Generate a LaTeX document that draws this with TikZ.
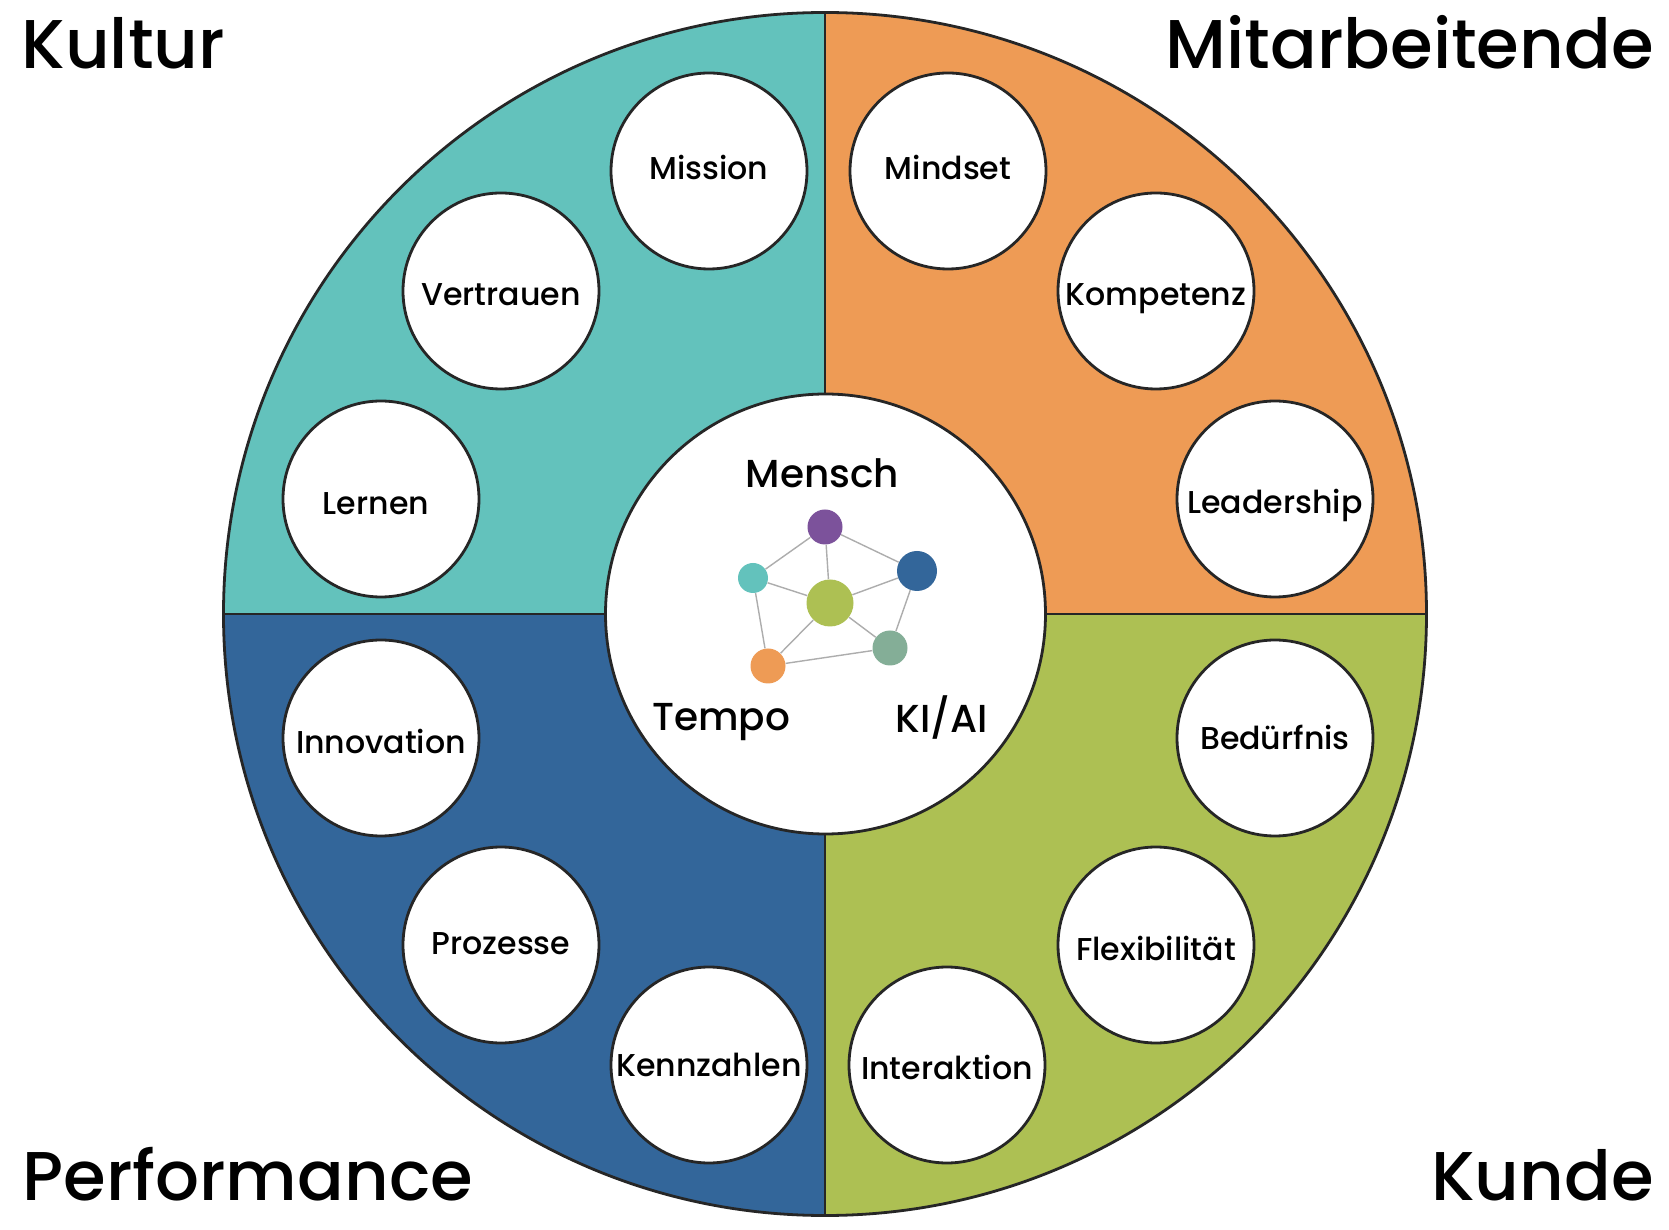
\documentclass[tikz,border=0pt]{standalone}
\usepackage{fontspec}
\setmainfont{Poppins}[UprightFont=* Medium]
\usepackage{xcolor}
\usetikzlibrary{positioning}
\definecolor{tuerkis}{HTML}{63C2BC}
\definecolor{apricot}{HTML}{EE9B55}
\definecolor{tiefblau}{HTML}{33669A}
\definecolor{gruen}{HTML}{ADC053}
\definecolor{violett}{HTML}{7C529B}
\definecolor{salbei}{HTML}{84AE97}
\newcommand{\kreistext}[2]{\raisebox{-#1pt}[0pt][0pt]{#2}}
\tikzset{
    feld/.style={draw=black!85, line width=1.4pt},
    kreis/.style={
        circle,
        draw=black!85,
        line width=1.4pt,
        fill=white,
        inner sep=0pt,
        minimum size=98pt,
        font=\fontsize{15.8}{18}\selectfont
    },
    mitte/.style={kreis, minimum size=220pt},
    titel/.style={font=\fontsize{34.5}{40}\selectfont, inner sep=0pt},
    thema/.style={font=\fontsize{19.5}{24}\selectfont, inner sep=0pt},
    punkt/.style={circle, inner sep=0pt},
    kante/.style={draw=black!32, line width=0.7pt}
}

\begin{document}
\begin{tikzpicture}[x=0.5pt, y=0.5pt]
    \useasboundingbox (-825,-616) rectangle (844,614);

    \fill[tuerkis] (0,0) -- (0,601.5) arc (90:180:601.5) -- cycle;
    \fill[apricot] (0,0) -- (601.5,0) arc (0:90:601.5) -- cycle;
    \fill[gruen] (0,0) -- (0,-601.5) arc (270:360:601.5) -- cycle;
    \fill[tiefblau] (0,0) -- (-601.5,0) arc (180:270:601.5) -- cycle;
    \draw[feld] (0,0) circle (601.5);
    \draw[feld] (-601.5,0) -- (601.5,0);
    \draw[feld] (0,-601.5) -- (0,601.5);

    \node[mitte] (mitte) at (0.5,0) {};

    \node[kreis] (mission) at (-116,443) {\kreistext{4.1}{Mission}};
    \node[kreis] (vertrauen) at (-324,323) {\kreistext{7.3}{Vertrauen}};
    \node[kreis] (lernen) at (-444,115) {\hspace*{-5pt}\kreistext{7.8}{Lernen}};
    \node[kreis] (mindset) at (123,443) {\kreistext{4.1}{Mindset}};
    \node[kreis] (kompetenz) at (331,323) {\kreistext{7.2}{Kompetenz}};
    \node[kreis] (leadership) at (450,115) {\kreistext{7.2}{Leadership}};
    \node[kreis] (beduerfnis) at (450,-124) {\kreistext{5.7}{Bedürfnis}};
    \node[kreis] (flexibilitaet) at (331,-331) {\kreistext{7.8}{Flexibilität}};
    \node[kreis] (interaktion) at (122,-451) {\kreistext{7.3}{Interaktion}};
    \node[kreis] (innovation) at (-444,-124) {\kreistext{7.8}{Innovation}};
    \node[kreis] (prozesse) at (-324,-331) {\kreistext{4.8}{Prozesse}};
    \node[kreis] (kennzahlen) at (-116,-451) {\kreistext{5.7}{Kennzahlen}};

    \node[titel, anchor=base west] (kultur) at (-804,545) {Kultur};
    \node[titel, anchor=base east] (mitarbeitende) at (829,545) {Mitarbeitende};
    \node[titel, anchor=base west] (performance) at (-803,-586) {Performance};
    \node[titel, anchor=base east] (kunde) at (829,-586) {Kunde};

    \node[thema] (mensch) at (-2.5,141) {Mensch};
    \node[thema] (tempo) at (-104,-108) {Tempo};
    \node[thema] (kiai) at (117,-104) {KI/AI};

    \node[punkt, fill=violett, minimum size=17.5pt] (violettpunkt) at (0,87) {};
    \node[punkt, fill=tiefblau, minimum size=20pt] (blaupunkt) at (92,43) {};
    \node[punkt, fill=tuerkis, minimum size=15pt] (tuerkispunkt) at (-72,36) {};
    \node[punkt, fill=gruen, minimum size=23.5pt] (gruenpunkt) at (5,11) {};
    \node[punkt, fill=salbei, minimum size=17.5pt] (salbeipunkt) at (65,-34) {};
    \node[punkt, fill=apricot, minimum size=17.5pt] (apricotpunkt) at (-57,-52) {};

    \draw[kante] (violettpunkt) -- (tuerkispunkt);
    \draw[kante] (violettpunkt) -- (gruenpunkt);
    \draw[kante] (violettpunkt) -- (blaupunkt);
    \draw[kante] (tuerkispunkt) -- (gruenpunkt);
    \draw[kante] (gruenpunkt) -- (blaupunkt);
    \draw[kante] (blaupunkt) -- (salbeipunkt);
    \draw[kante] (gruenpunkt) -- (salbeipunkt);
    \draw[kante] (tuerkispunkt) -- (apricotpunkt);
    \draw[kante] (gruenpunkt) -- (apricotpunkt);
    \draw[kante] (apricotpunkt) -- (salbeipunkt);
\end{tikzpicture}
\end{document}
